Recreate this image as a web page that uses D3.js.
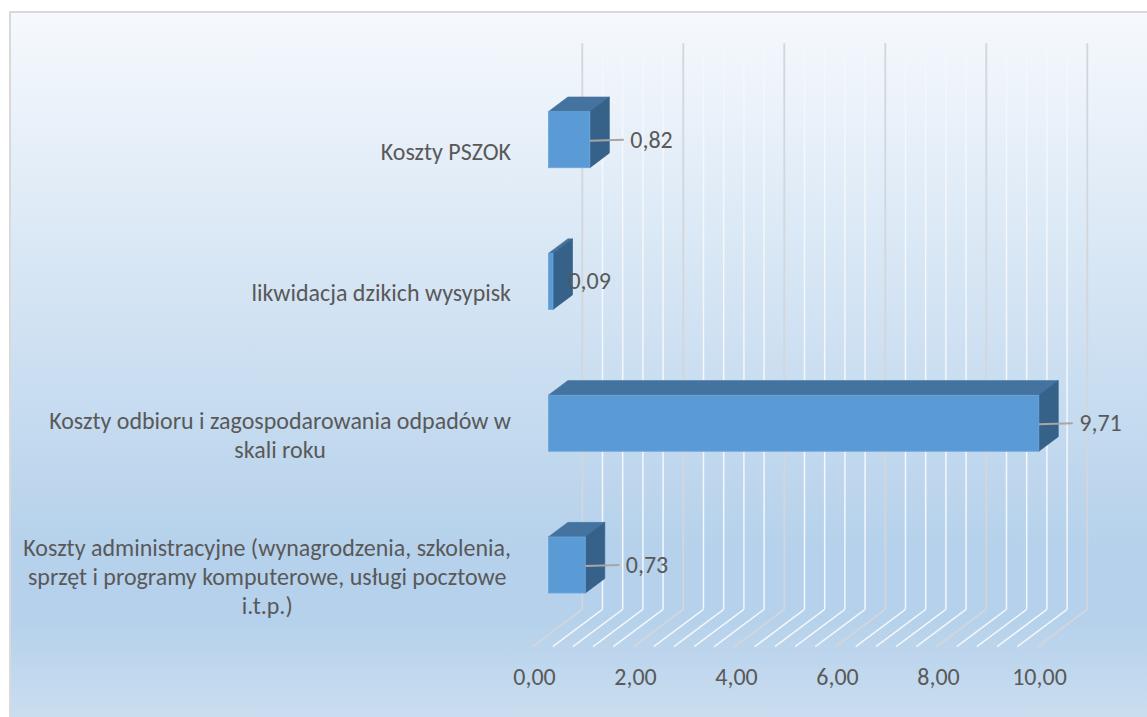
<!DOCTYPE html>
<html>
<head>
<meta charset="utf-8">
<script src="https://cdn.jsdelivr.net/npm/d3@7"></script>
<style>
  body { margin: 0; background: #ffffff; }
  svg text { font-family: Carlito, Calibri, Lato, sans-serif; fill: #595959; }
</style>
</head>
<body>
<div id="chart"></div>
<script>
// chart data
var categories = [
    "Koszty PSZOK",
    "likwidacja dzikich wysypisk",
    "Koszty odbioru i zagospodarowania odpadów w skali roku",
    "Koszty administracyjne (wynagrodzenia, szkolenia, sprzęt i programy komputerowe, usługi pocztowe i.t.p.)"
];
var values = [0.82, 0.09, 9.71, 0.73];
var tickValues = [0, 2, 4, 6, 8, 10];

function init() {
    var w = 1147;
    var h = 717;

    // oblique 3d setup: floor front edge origin and full depth vector
    var originX = 532.5;
    var wallTop = 43.3;
    var wallBottom = 609.3;
    var depth = { dx: 49.8, dy: 37.4 };
    var barFront = 0.32, barBack = 0.71;
    var barHeight = 56;

    var svg = d3.select("#chart")
        .append("svg")
        .attr("width", w)
        .attr("height", h);

    // background gradient
    var defs = svg.append("defs");
    var grad = defs.append("linearGradient")
        .attr("id", "bg")
        .attr("x1", 0).attr("y1", 0)
        .attr("x2", 0).attr("y2", 1);
    [[0, "#f6f9fd"], [0.74, "#b5d1eb"], [0.83, "#b5d1eb"], [1, "#cfe0f1"]].forEach(function (s) {
        grad.append("stop").attr("offset", s[0]).attr("stop-color", s[1]);
    });

    svg.append("rect")
        .attr("x", 10).attr("y", 12)
        .attr("width", w + 20).attr("height", 729)
        .attr("fill", "url(#bg)")
        .attr("stroke", "#d9d9d9")
        .attr("stroke-width", 2);

    // value scale along the axis (length only)
    var xScale = d3.scaleLinear().domain([0, 10]).range([0, 505]);
    // category centres on the bars' front faces
    var yScale = d3.scalePoint().domain(categories).range([139.7, 565]);

    function px(v, d) { return originX + xScale(v) + depth.dx * d; }

    // gridlines: major every 2, minor every 0.4
    var gridValues = d3.range(0, 26).map(function (i) { return i * 0.4; });
    var grid = svg.append("g").attr("class", "grid");

    gridValues.forEach(function (v, i) {
        var major = i % 5 === 0;
        var col = major ? "#d3d6da" : "#f4f7fb";
        var sw = major ? 1.8 : 1.5;
        // back wall
        grid.append("line")
            .attr("x1", px(v, 1)).attr("y1", wallTop)
            .attr("x2", px(v, 1)).attr("y2", wallBottom)
            .attr("stroke", col).attr("stroke-width", sw);
        // floor
        grid.append("line")
            .attr("x1", px(v, 1)).attr("y1", wallBottom)
            .attr("x2", px(v, 0)).attr("y2", wallBottom + depth.dy)
            .attr("stroke", col).attr("stroke-width", sw);
    });

    // font size fitted so the widest label line matches the original width
    var probe = svg.append("text").attr("font-size", 20)
        .text("Koszty administracyjne (wynagrodzenia, szkolenia,");
    var fs = 20 * 488 / probe.node().getComputedTextLength();
    probe.remove();

    // x axis tick labels along the front of the floor
    var fmt = function (v) { return d3.format(".2f")(v).replace(".", ","); };
    svg.append("g")
        .selectAll("text")
        .data(tickValues)
        .enter()
        .append("text")
        .attr("x", function (d) { return px(d, 0) + 2; })
        .attr("y", 685)
        .attr("text-anchor", "middle")
        .attr("font-size", fs)
        .text(fmt);

    // bars
    var dxF = depth.dx * barFront, dyF = depth.dy * barFront;
    var ddx = depth.dx * (barBack - barFront), ddy = depth.dy * (barBack - barFront);

    var bars = svg.selectAll(".bar")
        .data(categories.map(function (c, i) { return { cat: c, value: values[i] }; }))
        .enter()
        .append("g")
        .attr("class", "bar");

    function pts(arr) { return arr.map(function (p) { return p.join(","); }).join(" "); }

    bars.each(function (d) {
        var g = d3.select(this);
        var x0 = originX + xScale(0) + dxF;
        var x1 = originX + xScale(d.value) + dxF;
        var yT = yScale(d.cat) - barHeight / 2;
        var yB = yScale(d.cat) + barHeight / 2;
        // top face
        g.append("polygon")
            .attr("points", pts([[x0, yT], [x0 + ddx, yT - ddy], [x1 + ddx, yT - ddy], [x1, yT]]))
            .attr("fill", "#44739f")
            .attr("stroke", "#44739f").attr("stroke-width", 0.8);
        // side face
        g.append("polygon")
            .attr("points", pts([[x1, yT], [x1 + ddx, yT - ddy], [x1 + ddx, yB - ddy], [x1, yB]]))
            .attr("fill", "#36628a")
            .attr("stroke", "#36628a").attr("stroke-width", 0.8);
        // front face
        g.append("rect")
            .attr("x", x0).attr("y", yT)
            .attr("width", x1 - x0).attr("height", barHeight)
            .attr("fill", "#5b9bd5")
            .attr("stroke", "#6aa5db").attr("stroke-width", 0.8);

        // data label with leader line
        var cy = yScale(d.cat);
        var small = (x1 - x0) < 10;
        if (!small) {
            g.append("line")
                .attr("x1", x1).attr("y1", cy + 1)
                .attr("x2", x1 + 34).attr("y2", cy)
                .attr("stroke", "#a6a6a6").attr("stroke-width", 2);
        }
        g.append("text")
            .attr("x", small ? x1 + ddx - 4 : x1 + 40.5)
            .attr("y", cy + 8)
            .attr("font-size", fs)
            .text(fmt(d.value));
    });

    // category labels, wrapped and centred within a right-aligned block
    var labelRight = 511;
    var lineH = 29;
    categories.forEach(function (c) {
        var t = svg.append("text").attr("font-size", fs).attr("text-anchor", "middle");
        var words = c.split(" ");
        var lines = [];
        var cur = "";
        words.forEach(function (wd) {
            var test = cur ? cur + " " + wd : wd;
            t.text(test);
            if (t.node().getComputedTextLength() > 495 && cur) {
                lines.push(cur);
                cur = wd;
            } else {
                cur = test;
            }
        });
        lines.push(cur);
        var maxW = 0;
        lines.forEach(function (l) {
            t.text(l);
            maxW = Math.max(maxW, t.node().getComputedTextLength());
        });
        t.text(null);
        var cx = labelRight - maxW / 2;
        var cy = yScale(c) + 13 - (lines.length - 1) * lineH / 2;
        lines.forEach(function (l, i) {
            t.append("tspan")
                .attr("x", cx)
                .attr("y", cy + i * lineH + 7)
                .text(l);
        });
    });
}

window.onload = init;
</script>
</body>
</html>
